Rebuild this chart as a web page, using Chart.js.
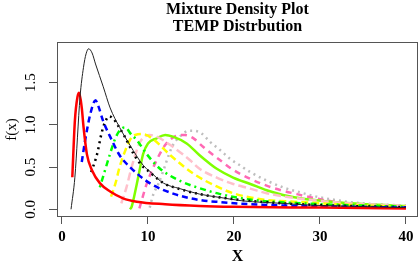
<!DOCTYPE html>
<html>
<head>
<meta charset="utf-8">
<script src="https://cdn.jsdelivr.net/npm/chart.js@4"></script>
<style>
  html, body { margin: 0; padding: 0; background: #fff; }
  canvas { display: block; }
</style>
</head>
<body>
<canvas id="chart" width="420" height="262"></canvas>
<script>
const mainTitle = ["Mixture Density Plot", "TEMP Distrbution"];
const xLabel = "X";
const yLabel = "f(x)";
const xTicks = [0, 10, 20, 30, 40];
const yTicks = [0, 0.5, 1, 1.5];

// values, one pair of arrays per curve
const blackX = [1.05, 1.5, 2.1, 2.5, 2.8, 3.1, 3.5, 3.9, 4.8, 5.6, 6.7, 7.9, 9.45, 10.2, 11.8, 13.7, 16, 18.4, 21, 25.7, 28.8, 34, 40];
const blackY = [0, 0.38, 1.33, 1.68, 1.84, 1.9, 1.85, 1.72, 1.45, 1.2, 0.97, 0.76, 0.52, 0.45, 0.31, 0.245, 0.18, 0.14, 0.1, 0.07, 0.05, 0.035, 0.02];

const redX = [1.2, 1.5, 1.8, 2.0, 2.3, 2.5, 2.9, 3.5, 4.4, 5.6, 7.1, 8.7, 12, 16, 20, 30, 40];
const redY = [0.38, 1.05, 1.33, 1.38, 1.2, 0.98, 0.65, 0.46, 0.31, 0.21, 0.13, 0.09, 0.06, 0.04, 0.03, 0.02, 0.01];

const blueX = [2.3, 2.7, 3.3, 3.9, 4.2, 4.8, 5.6, 6.7, 7.9, 10.2, 13.1, 16, 18.5, 22, 28, 40];
const blueY = [0.56, 0.82, 1.13, 1.29, 1.23, 1.04, 0.86, 0.64, 0.5, 0.31, 0.18, 0.11, 0.085, 0.06, 0.04, 0.02];

const dotX = [3.4, 4.1, 4.6, 5.0, 5.5, 6.0, 6.4, 7.3, 8.3, 9.1, 10.2, 11.8, 13.7, 16, 20, 25, 30, 35, 40];
const dotY = [0.44, 0.66, 0.9, 1.03, 1.1, 1.07, 1.01, 0.86, 0.66, 0.54, 0.44, 0.31, 0.24, 0.18, 0.12, 0.075, 0.05, 0.035, 0.025];

const greenX = [4.4, 5.0, 5.6, 6.2, 6.7, 7.3, 8.1, 8.7, 9.8, 11.4, 14.1, 16, 18.4, 21.9, 28, 40];
const greenY = [0.26, 0.46, 0.66, 0.84, 0.93, 0.97, 0.88, 0.82, 0.66, 0.48, 0.32, 0.25, 0.18, 0.115, 0.07, 0.03];

const yellowX = [5.7, 6.2, 6.7, 7.3, 7.9, 8.5, 9.4, 10.6, 12.6, 15.3, 18, 19.9, 21.9, 23.8, 27.7, 32, 40];
const yellowY = [0.15, 0.3, 0.5, 0.68, 0.82, 0.88, 0.89, 0.83, 0.64, 0.42, 0.27, 0.19, 0.14, 0.11, 0.086, 0.06, 0.03];

const pinkX = [6.9, 7.5, 8.1, 8.7, 9.1, 9.6, 10.2, 11, 12.6, 14.9, 16, 18, 19.9, 21.9, 23.8, 27.7, 31.5, 35.4, 40];
const pinkY = [0.07, 0.26, 0.5, 0.7, 0.8, 0.86, 0.88, 0.86, 0.76, 0.58, 0.48, 0.375, 0.3, 0.245, 0.19, 0.125, 0.086, 0.06, 0.04];

const limeX = [7.9, 8.1, 8.7, 9.1, 9.45, 10, 11, 12, 12.9, 14.5, 16, 17.2, 18, 19.9, 21.9, 23.8, 25.7, 27.7, 31.5, 35.4, 40];
const limeY = [0, 0.03, 0.3, 0.5, 0.66, 0.78, 0.84, 0.88, 0.86, 0.78, 0.64, 0.54, 0.48, 0.375, 0.3, 0.225, 0.17, 0.13, 0.086, 0.06, 0.04];

const hotX = [9.0, 9.85, 11, 12, 13.1, 14.3, 15.3, 16.4, 18.4, 19.7, 21.9, 23.8, 25.5, 27.3, 29, 30.8, 32.5, 34.3, 40];
const hotY = [0.01, 0.3, 0.58, 0.76, 0.86, 0.88, 0.84, 0.74, 0.58, 0.48, 0.36, 0.28, 0.225, 0.18, 0.14, 0.105, 0.075, 0.055, 0.03];

const greyX = [10.2, 10.6, 11.2, 11.8, 12.2, 12.8, 13.9, 14.8, 15.3, 16.2, 17.2, 18.4, 19.5, 20.7, 21.9, 23.8, 25.7, 27.7, 29.6, 31.5, 33.5, 35.4, 40];
const greyY = [0.02, 0.17, 0.3, 0.46, 0.58, 0.74, 0.88, 0.93, 0.93, 0.9, 0.8, 0.7, 0.6, 0.52, 0.44, 0.34, 0.26, 0.2, 0.15, 0.115, 0.086, 0.067, 0.045];

const pts = (xs, ys) => xs.map((x, i) => ({ x: x, y: ys[i] }));

function curve(xs, ys, color, width, dash) {
    return {
        data: pts(xs, ys),
        borderColor: color,
        borderWidth: width,
        borderDash: dash || [],
        showLine: true,
        pointRadius: 0,
        cubicInterpolationMode: "monotone",
        fill: false,
    };
}

const serif = '"Liberation Serif", "DejaVu Serif", serif';

// box, titles and the rotated y tick labels, drawn the R way
const frame = {
    id: "frame",
    afterDraw(chart) {
        const { ctx, chartArea: a } = chart;
        const yScale = chart.scales.y;
        ctx.save();
        ctx.strokeStyle = "#555";
        ctx.lineWidth = 1;
        ctx.strokeRect(a.left + 0.5, a.top + 0.5, a.right - a.left - 1, a.bottom - a.top - 1);

        const cx = (a.left + a.right) / 2;
        ctx.fillStyle = "#000";
        ctx.textAlign = "center";
        ctx.textBaseline = "alphabetic";
        ctx.font = "bold 16px " + serif;
        ctx.fillText(mainTitle[0], cx, 14);
        ctx.fillText(mainTitle[1], cx, 31);

        ctx.font = "bold 16px " + serif;
        ctx.fillText(xLabel, cx, 261);

        ctx.textBaseline = "middle";
        ctx.font = "15px " + serif;
        yTicks.forEach((v) => {
            ctx.save();
            ctx.translate(31, yScale.getPixelForValue(v));
            ctx.rotate(-Math.PI / 2);
            ctx.fillText(v.toFixed(1), 0, 0);
            ctx.restore();
        });

        ctx.translate(12, (a.top + a.bottom) / 2);
        ctx.rotate(-Math.PI / 2);
        ctx.fillText(yLabel, 0, 0);
        ctx.restore();
    },
};

const ctx = document.getElementById("chart").getContext("2d");
const chart = new Chart(ctx, {
    type: "scatter",
    data: {
        datasets: [
            curve(blackX, blackY, "#222", 1),
            curve(redX, redY, "#ff0000", 2.5),
            curve(blueX, blueY, "#0000ff", 2.5, [6, 4]),
            curve(dotX, dotY, "#000", 2.5, [2, 4]),
            curve(greenX, greenY, "#00ff00", 2.5, [2, 4, 6, 4]),
            curve(yellowX, yellowY, "#ffff00", 2.5, [7, 4]),
            curve(pinkX, pinkY, "#ffc0cb", 2.5, [8, 4]),
            curve(limeX, limeY, "#7fff00", 2.5),
            curve(hotX, hotY, "#ff69b4", 2.5, [6, 5]),
            curve(greyX, greyY, "#bebebe", 2.5, [2, 4]),
        ],
    },
    options: {
        responsive: false,
        animation: false,
        devicePixelRatio: 1,
        layout: { padding: { left: 0, right: 2, top: 42, bottom: 0 } },
        plugins: {
            legend: { display: false },
            title: { display: false },
            tooltip: { enabled: false },
        },
        scales: {
            x: {
                type: "linear",
                min: -0.58,
                max: 41.4,
                afterBuildTicks: (s) => { s.ticks = xTicks.map((v) => ({ value: v })); },
                afterFit: (s) => { s.height = 45; },
                grid: { display: true, drawOnChartArea: false, drawTicks: true, tickLength: 7, color: "#555" },
                border: { display: false },
                ticks: { font: { family: serif, size: 15, weight: "bold" }, color: "#000", padding: 4, maxRotation: 0, callback: (v) => String(v) },
            },
            y: {
                type: "linear",
                min: -0.091,
                max: 1.98,
                afterBuildTicks: (s) => { s.ticks = yTicks.map((v) => ({ value: v })); },
                afterFit: (s) => { s.width = 57; },
                grid: { display: true, drawOnChartArea: false, drawTicks: true, tickLength: 8, color: "#555" },
                border: { display: false },
                ticks: { display: false },
            },
        },
    },
    plugins: [frame],
});
</script>
</body>
</html>
